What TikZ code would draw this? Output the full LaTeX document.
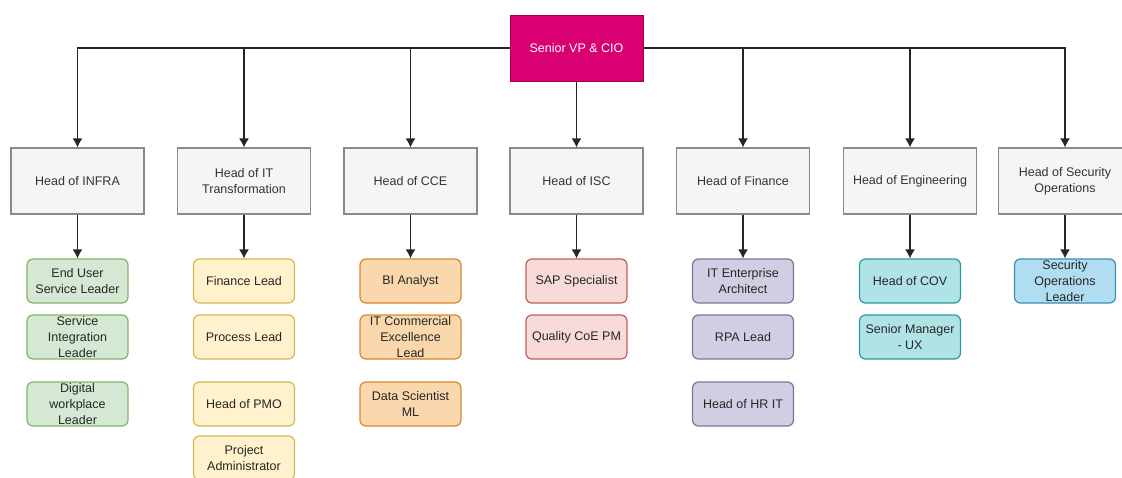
\documentclass[tikz,border=0pt]{standalone}
\usepackage{fontspec}
\setmainfont{Liberation Sans}
\usetikzlibrary{arrows.meta}

\definecolor{cioFill}{HTML}{D80073}
\definecolor{cioLine}{HTML}{A50040}
\definecolor{headFill}{HTML}{F5F5F5}
\definecolor{headLine}{HTML}{8A8A8A}
\definecolor{headText}{HTML}{333333}
\definecolor{greenFill}{HTML}{D5E8D4}
\definecolor{greenLine}{HTML}{82B366}
\definecolor{yellowFill}{HTML}{FFF2CC}
\definecolor{yellowLine}{HTML}{D6B656}
\definecolor{orangeFill}{HTML}{FAD7AC}
\definecolor{orangeLine}{HTML}{D58A2E}
\definecolor{redFill}{HTML}{F8DAD8}
\definecolor{redLine}{HTML}{C0605A}
\definecolor{purpleFill}{HTML}{D0CEE2}
\definecolor{purpleLine}{HTML}{7A7699}
\definecolor{cyanFill}{HTML}{B0E3E6}
\definecolor{cyanLine}{HTML}{2A9A9F}
\definecolor{blueFill}{HTML}{B1DDF0}
\definecolor{blueLine}{HTML}{3C8DB8}

\begin{document}
\begin{tikzpicture}[x=1pt, y=-1pt, font=\fontsize{12.5}{16}\selectfont]

\tikzstyle{cio_box} = [rectangle, draw=cioLine, fill=cioFill, text=white, minimum width=133pt, minimum height=66pt]
\tikzstyle{head_box} = [rectangle, draw=headLine, fill=headFill, text=headText, line width=1.2pt, minimum width=133pt, minimum height=66pt, align=center]
\tikzstyle{role_box} = [rectangle, rounded corners=6pt, line width=1.2pt, text=black!85, inner sep=1pt, minimum width=101pt, minimum height=44pt, align=center]
\tikzstyle{green_box} = [role_box, draw=greenLine, fill=greenFill]
\tikzstyle{yellow_box} = [role_box, draw=yellowLine, fill=yellowFill]
\tikzstyle{orange_box} = [role_box, draw=orangeLine, fill=orangeFill]
\tikzstyle{red_box} = [role_box, draw=redLine, fill=redFill]
\tikzstyle{purple_box} = [role_box, draw=purpleLine, fill=purpleFill]
\tikzstyle{cyan_box} = [role_box, draw=cyanLine, fill=cyanFill]
\tikzstyle{blue_box} = [role_box, draw=blueLine, fill=blueFill]
\tikzstyle{edge} = [-{Latex[length=9pt,width=10pt]}, line width=1.3pt, draw=black!85]

\clip (0,0) rectangle (1122,477);

%------------------------------------------------------------
	\node[cio_box] (cio) at (576.5,48) {Senior VP \& CIO};

%------------------------------------------------------------
	\node[head_box] (h0) at (77.5,181)  {Head of INFRA};
	\node[head_box] (h1) at (244,181)   {Head of IT\\Transformation};
	\node[head_box] (h2) at (410.5,181) {Head of CCE};
	\node[head_box] (h3) at (576.5,181) {Head of ISC};
	\node[head_box] (h4) at (743,181)   {Head of Finance};
	\node[head_box] (h5) at (910,181)   {Head of Engineering};
	\node[head_box] (h6) at (1065,181)  {Head of Security\\Operations};

	\draw[edge] (cio.west) -| (h0.north);
	\draw[edge] (cio.west) -| (h1.north);
	\draw[edge] (cio.west) -| (h2.north);
	\draw[edge] (cio) -- (h3);
	\draw[edge] (cio.east) -| (h4.north);
	\draw[edge] (cio.east) -| (h5.north);
	\draw[edge] (cio.east) -| (h6.north);

%------------------------------------------------------------
	\node[green_box] (r00) at (77.5,281) {End User\\Service Leader};
	\node[green_box] (r01) at (77.5,337) {Service\\Integration\\Leader};
	\node[green_box] (r02) at (77.5,404) {Digital\\workplace\\Leader};

	\draw[edge] (h0) -- (r00);

%------------------------------------------------------------
	\node[yellow_box] (r10) at (244,281) {Finance Lead};
	\node[yellow_box] (r11) at (244,337) {Process Lead};
	\node[yellow_box] (r12) at (244,404) {Head of PMO};
	\node[yellow_box] (r13) at (244,458) {Project\\Administrator};

	\draw[edge] (h1) -- (r10);

%------------------------------------------------------------
	\node[orange_box] (r20) at (410.5,281) {BI Analyst};
	\node[orange_box] (r21) at (410.5,337) {IT Commercial\\Excellence\\Lead};
	\node[orange_box] (r22) at (410.5,404) {Data Scientist\\ML};

	\draw[edge] (h2) -- (r20);

%------------------------------------------------------------
	\node[red_box] (r30) at (576.5,281) {SAP Specialist};
	\node[red_box] (r31) at (576.5,337) {Quality CoE PM};

	\draw[edge] (h3) -- (r30);

%------------------------------------------------------------
	\node[purple_box] (r40) at (743,281) {IT Enterprise\\Architect};
	\node[purple_box] (r41) at (743,337) {RPA Lead};
	\node[purple_box] (r42) at (743,404) {Head of HR IT};

	\draw[edge] (h4) -- (r40);

%------------------------------------------------------------
	\node[cyan_box] (r50) at (910,281) {Head of COV};
	\node[cyan_box] (r51) at (910,337) {Senior Manager\\- UX};

	\draw[edge] (h5) -- (r50);

%------------------------------------------------------------
	\node[blue_box] (r60) at (1065,281) {Security\\Operations\\Leader};

	\draw[edge] (h6) -- (r60);

\end{tikzpicture}
\end{document}
